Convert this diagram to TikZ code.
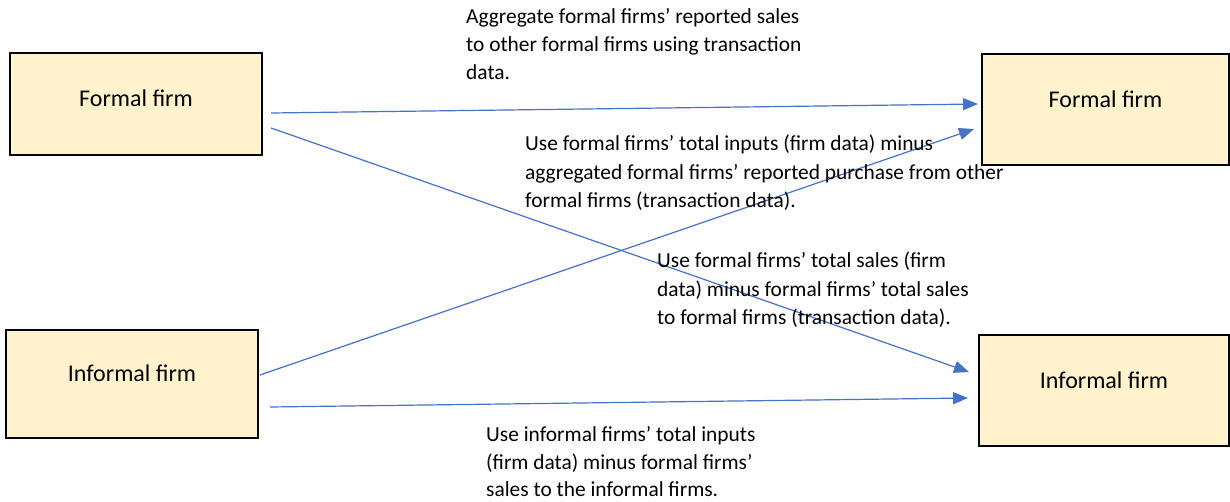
\documentclass[tikz,border=0pt]{standalone}
\usepackage{fontspec}
\setmainfont{Carlito}
\usetikzlibrary{arrows.meta}
\definecolor{boxfill}{HTML}{FFF2CC}
\definecolor{flowblue}{HTML}{4472C4}
\tikzset{
  firm/.style={draw=black, line width=2pt, fill=boxfill, inner sep=0pt},
  flow/.style={draw=flowblue, line width=1.2pt, -{Triangle[length=15pt,width=12pt]}},
  note/.style={anchor=north west, inner sep=0pt, align=left,
    font=\fontsize{21.4}{28.3}\selectfont},
  boxtext/.style={font=\fontsize{24}{28}\selectfont}
}
\begin{document}
\begin{tikzpicture}[x=1pt, y=-1pt]
\useasboundingbox (0,0) rectangle (1230,502);

% firms on the left
\node[firm, minimum width=252pt, minimum height=102pt] (ffL) at (136,104) {};
\node[firm, minimum width=252pt, minimum height=108pt] (ifL) at (132,384) {};
% firms on the right
\node[firm, minimum width=247pt, minimum height=111pt] (ffR) at (1105.5,109.5) {};
\node[firm, minimum width=250pt, minimum height=111pt] (ifR) at (1104,390.5) {};

\node[boxtext] (ffLt) at ([yshift=6pt]ffL.center) {Formal firm};
\node[boxtext] (ifLt) at ([yshift=11pt]ifL.center) {Informal firm};
\node[boxtext] (ffRt) at ([yshift=10pt]ffR.center) {Formal firm};
\node[boxtext] (ifRt) at ([yshift=10pt]ifR.center) {Informal firm};

% flows between the firms
\draw[flow] ([xshift=8pt,yshift=-9pt]ffL.east) -- ([xshift=-3pt,yshift=5.5pt]ffR.west);
\draw[flow] ([xshift=8pt,yshift=-24pt]ffL.east) -- ([xshift=-9pt,yshift=18.5pt]ifR.west);
\draw[flow] ([xshift=11pt,yshift=-23pt]ifL.east) -- ([xshift=-10pt,yshift=-7.5pt]ifR.west);
\draw[flow] ([xshift=1pt,yshift=9pt]ifL.east) -- ([xshift=-7pt,yshift=-19.5pt]ffR.west);

% explanations of each flow
\node[note] (n1) at (466,8) {Aggregate formal firms’ reported sales\\to other formal firms using transaction\\data.};
\node[note] (n2) at (525,135) {Use formal firms’ total inputs (firm data) minus\\aggregated formal firms’ reported purchase from other\\formal firms (transaction data).};
\node[note] (n3) at (657,252) {Use formal firms’ total sales (firm\\data) minus formal firms’ total sales\\to formal firms (transaction data).};
\node[note, font=\fontsize{21.4}{27.8}\selectfont] (n4) at (486,426) {Use informal firms’ total inputs\\(firm data) minus formal firms’\\sales to the informal firms.};
\end{tikzpicture}
\end{document}
